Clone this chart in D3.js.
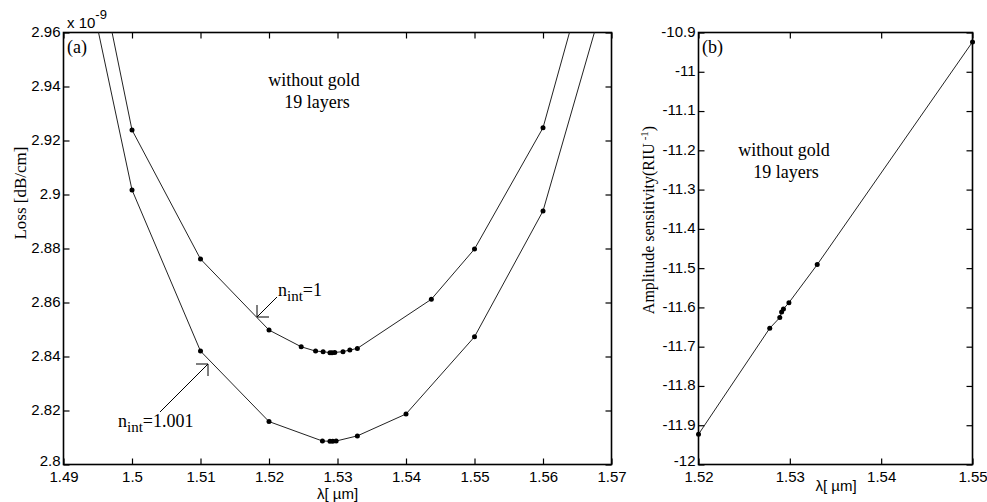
<!DOCTYPE html>
<html>
<head>
<meta charset="utf-8">
<script src="https://cdn.jsdelivr.net/npm/d3@7"></script>
<style>
  body { margin: 0; background: #fff; }
  svg { display: block; }
  .tick text { font-family: "Liberation Sans", Arial, sans-serif; font-size: 15px; fill: #000; }
  .serif { font-family: "Liberation Serif", "Times New Roman", serif; fill: #000; }
</style>
</head>
<body>
<div id="chart"></div>
<script>
// ---- panel (a): loss vs wavelength, two refractive indices ----
const lambdaN1 = [1.49, 1.50, 1.51, 1.52, 1.5247, 1.5268, 1.5279, 1.5289, 1.5292, 1.5296, 1.5308, 1.5318, 1.5329, 1.5437, 1.55, 1.56, 1.57];
const lossN1   = [3.048, 2.9239, 2.8761, 2.8498, 2.8436, 2.8420, 2.8418, 2.8414, 2.8414, 2.8415, 2.8418, 2.8424, 2.8430, 2.8612, 2.8798, 2.9247, 3.016];

const lambdaN1001 = [1.49, 1.50, 1.51, 1.52, 1.5278, 1.5289, 1.5293, 1.5298, 1.5329, 1.54, 1.55, 1.56, 1.57];
const lossN1001   = [3.021, 2.9017, 2.8420, 2.8159, 2.8087, 2.8086, 2.8086, 2.8087, 2.8106, 2.8187, 2.8473, 2.8939, 2.982];

const xTicksA = [1.49, 1.50, 1.51, 1.52, 1.53, 1.54, 1.55, 1.56, 1.57];
const xLabelsA = ["1.49", "1.5", "1.51", "1.52", "1.53", "1.54", "1.55", "1.56", "1.57"];
const yTicksA = [2.80, 2.82, 2.84, 2.86, 2.88, 2.90, 2.92, 2.94, 2.96];
const yLabelsA = ["2.8", "2.82", "2.84", "2.86", "2.88", "2.9", "2.92", "2.94", "2.96"];

// ---- panel (b): amplitude sensitivity ----
const lambdaB = [1.52, 1.5278, 1.5289, 1.5291, 1.5293, 1.5299, 1.533, 1.55];
const sensB   = [-11.923, -11.653, -11.626, -11.612, -11.604, -11.588, -11.491, -10.924];

const xTicksB = [1.52, 1.53, 1.54, 1.55];
const xLabelsB = ["1.52", "1.53", "1.54", "1.55"];
const yTicksB = [-12, -11.9, -11.8, -11.7, -11.6, -11.5, -11.4, -11.3, -11.2, -11.1, -11, -10.9];
const yLabelsB = ["-12", "-11.9", "-11.8", "-11.7", "-11.6", "-11.5", "-11.4", "-11.3", "-11.2", "-11.1", "-11", "-10.9"];

const W = 987, H = 502;
const svg = d3.select("#chart").append("svg").attr("width", W).attr("height", H);

const plotTop = 32.5, plotBottom = 464.5;

function panel(opts) {
    let x = d3.scaleLinear().domain(opts.xDomain).range([opts.left, opts.right]);
    let y = d3.scaleLinear().domain(opts.yDomain).range([plotBottom, plotTop]);
    let g = svg.append("g");

    let fmtX = d => opts.xLabels[opts.xTicks.indexOf(d)];
    let fmtY = d => opts.yLabels[opts.yTicks.indexOf(d)];

    // axes with inward ticks on all four sides
    g.append("g").attr("transform", `translate(0,${plotBottom})`)
        .call(d3.axisBottom(x).tickValues(opts.xTicks).tickFormat(fmtX).tickSizeInner(-6).tickSizeOuter(0).tickPadding(7));
    g.append("g").attr("transform", `translate(0,${plotTop})`)
        .call(d3.axisTop(x).tickValues(opts.xTicks).tickFormat("").tickSizeInner(-6).tickSizeOuter(0));
    let yAxis = g.append("g").attr("transform", `translate(${opts.left},0)`)
        .call(d3.axisLeft(y).tickValues(opts.yTicks).tickFormat(fmtY).tickSizeInner(-6).tickSizeOuter(0).tickPadding(3));
    yAxis.selectAll(".tick text").attr("dy", (d, i) => i === 0 ? "0.08em" : "0.26em");
    g.append("g").attr("transform", `translate(${opts.right},0)`)
        .call(d3.axisRight(y).tickValues(opts.yTicks).tickFormat("").tickSizeInner(-6).tickSizeOuter(0));

    g.selectAll(".domain").remove();
    g.selectAll(".tick line").attr("stroke", "#000").attr("stroke-width", 1.2);
    g.selectAll(".tick text").attr("fill", "#000");

    g.append("rect")
        .attr("x", opts.left).attr("y", plotTop)
        .attr("width", opts.right - opts.left).attr("height", plotBottom - plotTop)
        .attr("fill", "none").attr("stroke", "#000").attr("stroke-width", 1.6);

    return {x, y, g};
}

// clip for the lines that run off the top of panel (a)
svg.append("clipPath").attr("id", "clipA")
    .append("rect").attr("x", 63.5).attr("y", plotTop).attr("width", 548).attr("height", plotBottom - plotTop);

let A = panel({
    left: 63.5, right: 611.5,
    xDomain: [1.49, 1.57], yDomain: [2.80, 2.96],
    xTicks: xTicksA, xLabels: xLabelsA, yTicks: yTicksA, yLabels: yLabelsA
});

let B = panel({
    left: 698.5, right: 972.5,
    xDomain: [1.52, 1.55], yDomain: [-12, -10.9],
    xTicks: xTicksB, xLabels: xLabelsB, yTicks: yTicksB, yLabels: yLabelsB
});

function drawSeries(p, xs, ys, clip) {
    let pts = xs.map((d, i) => [d, ys[i]]);
    let line = d3.line().x(d => p.x(d[0])).y(d => p.y(d[1]));
    let layer = p.g.append("g");
    if (clip) layer.attr("clip-path", "url(#clipA)");
    layer.append("path")
        .datum(pts)
        .attr("d", line)
        .attr("fill", "none")
        .attr("stroke", "#222")
        .attr("stroke-width", 1);
    layer.selectAll("circle")
        .data(pts)
        .enter().append("circle")
        .attr("cx", d => p.x(d[0]))
        .attr("cy", d => p.y(d[1]))
        .attr("r", 2.5)
        .attr("fill", "#000");
}

drawSeries(A, lambdaN1, lossN1, true);
drawSeries(A, lambdaN1001, lossN1001, true);
drawSeries(B, lambdaB, sensB, false);

// exponent note
let expo = svg.append("text")
    .attr("x", 67).attr("y", 28)
    .style("font-family", "Liberation Sans, Arial, sans-serif")
    .style("font-size", "15px");
expo.append("tspan").text("x 10");
expo.append("tspan").attr("dy", -9).style("font-size", "13px").text("-9");

// panel letters
svg.append("text").attr("class", "serif").attr("x", 67).attr("y", 53).style("font-size", "18px").text("(a)");
svg.append("text").attr("class", "serif").attr("x", 702).attr("y", 53).style("font-size", "18px").text("(b)");

// notes
svg.append("text").attr("class", "serif").attr("x", 314).attr("y", 86)
    .attr("text-anchor", "middle").style("font-size", "18px").text("without gold");
svg.append("text").attr("class", "serif").attr("x", 317).attr("y", 108)
    .attr("text-anchor", "middle").style("font-size", "18px").text("19 layers");
svg.append("text").attr("class", "serif").attr("x", 784).attr("y", 156)
    .attr("text-anchor", "middle").style("font-size", "18px").text("without gold");
svg.append("text").attr("class", "serif").attr("x", 786).attr("y", 178)
    .attr("text-anchor", "middle").style("font-size", "18px").text("19 layers");

// n_int annotations with arrows
function arrow(x1, y1, x2, y2) {
    let g = svg.append("g").attr("stroke", "#000").attr("stroke-width", 1).attr("fill", "none");
    g.append("line").attr("x1", x1).attr("y1", y1).attr("x2", x2).attr("y2", y2);
    let sx = Math.sign(x1 - x2), sy = Math.sign(y1 - y2);
    g.append("line").attr("x1", x2).attr("y1", y2).attr("x2", x2 + sx * 12).attr("y2", y2);
    g.append("line").attr("x1", x2).attr("y1", y2).attr("x2", x2).attr("y2", y2 + sy * 12);
}

function nLabel(x, y, val) {
    let t = svg.append("text").attr("class", "serif").attr("x", x).attr("y", y).style("font-size", "18px");
    t.append("tspan").text("n");
    t.append("tspan").attr("dy", 5).style("font-size", "15px").text("int");
    t.append("tspan").attr("dy", -5).text("=" + val);
}

arrow(277, 297, 257, 317);
nLabel(278, 296, "1");
arrow(160, 412, 208, 364);
nLabel(118, 427, "1.001");

// axis titles
svg.append("text").attr("class", "serif")
    .attr("transform", "translate(26,193) rotate(-90)")
    .attr("text-anchor", "middle").style("font-size", "17px").text("Loss [dB/cm]");

let yb = svg.append("text").attr("class", "serif")
    .attr("transform", "translate(654,220) rotate(-90)")
    .attr("text-anchor", "middle").style("font-size", "16px");
yb.append("tspan").text("Amplitude sensitivity(RIU");
yb.append("tspan").attr("dy", -6).style("font-size", "11px").text(" -1");
yb.append("tspan").attr("dy", 6).text(")");

svg.append("text")
    .attr("x", 337.5).attr("y", 499).attr("text-anchor", "middle")
    .style("font-family", "Liberation Sans, Arial, sans-serif").style("font-size", "15px")
    .text("\u03bb[ \u00b5m]");
svg.append("text")
    .attr("x", 836).attr("y", 491).attr("text-anchor", "middle")
    .style("font-family", "Liberation Sans, Arial, sans-serif").style("font-size", "15px")
    .text("\u03bb[ \u00b5m]");
</script>
</body>
</html>
